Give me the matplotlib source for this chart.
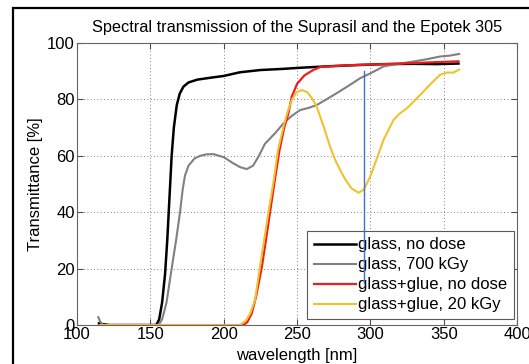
import matplotlib
matplotlib.use("Agg")
import matplotlib.pyplot as plt
from matplotlib.patches import Rectangle

plt.rcParams['font.family'] = ['Liberation Sans', 'DejaVu Sans']

# glass, no dose
wl_glass = [115, 118, 122, 130, 140, 150, 154, 156, 158, 160, 161.5, 163, 164.5, 166, 168, 170,
            172.5, 176, 182, 190, 200, 211, 225, 240, 252, 270, 293, 310, 330, 345, 360]
t_glass = [0.6, 0.3, 0, 0, 0, 0, 0, 2, 8, 18, 30, 45, 60, 70, 78, 82,
           84.5, 86, 87, 87.6, 88.3, 89.6, 90.4, 90.8, 91.2, 91.7, 92.2, 92.5, 92.6, 92.5, 92.7]

# glass, 700 kGy
wl_glass_700 = [114.5, 116, 118, 125, 140, 150, 155.5, 158, 161, 164.5, 167.5, 170.2, 172, 173.6,
                176, 180, 184, 188, 193, 200, 206, 211, 215.7, 220, 224, 228, 235, 240.7, 246,
                252, 258, 263.4, 270, 277, 285, 293, 301, 309, 318, 329, 338, 347.5, 354, 360.5]
t_glass_700 = [2.8, 1, 0, 0, 0, 0, 0, 2, 8, 20, 30, 40, 48, 53,
               56.5, 59, 60, 60.5, 60.6, 59.5, 57.5, 56, 55.3, 56.5, 60, 64.2, 68, 71.5, 74,
               76.2, 77, 78, 80, 82.2, 84.8, 87.5, 89.5, 91.7, 92.5, 93.4, 94.2, 95.2, 95.5, 96.1]

# glass+glue, no dose
wl_glue = [116, 130, 150, 170, 190, 205, 213.4, 216, 219, 222, 226, 229, 231.6, 235, 238, 241,
           244, 246.4, 250, 255, 261, 266, 275, 290, 310, 330, 345, 360]
t_glue = [0, 0, 0, 0, 0, 0, 0, 1, 4, 10, 20.7, 31, 40.2, 52, 62, 69.5,
          75, 81, 85.5, 88.5, 90.4, 91.5, 91.8, 92.2, 92.5, 92.9, 93.2, 93.5]

# glass+glue, 20 kGy
wl_glue_20 = [116, 130, 150, 170, 190, 205, 211, 215, 218, 221.4, 224.5, 227.5, 230.5, 234, 237,
              240.7, 243.5, 246.4, 249.5, 253.2, 257, 260, 263.4, 268, 272.5, 276, 279.3, 283,
              287, 291.8, 295.5, 299.8, 304, 308.9, 315.7, 320, 324.8, 330, 336, 342, 347.5,
              352, 356.6, 360.5]
t_glue_20 = [0, 0, 0, 0, 0, 0, 0, 1.5, 4, 9, 20, 30, 40, 51, 62,
             70.3, 75.5, 79.8, 82.5, 83.3, 82.5, 80.5, 77.4, 70.5, 63.2, 58.5, 55, 51.5,
             48.5, 46.9, 48, 52.6, 58.5, 65.6, 72.7, 75, 76.8, 79.5, 82.7, 86, 88.7,
             89.5, 89.5, 90.6]

# marker line
marker_wl = 295.5
marker_t = [15, 90]

labels = ['glass, no dose', 'glass, 700 kGy', 'glass+glue, no dose', 'glass+glue, 20 kGy']
colors = ['#000000', '#808080', '#ee1c1c', '#f2c12e']

fig = plt.figure(figsize=(5.29, 3.64), dpi=100)
ax = fig.add_axes([0.1456, 0.107, 0.832, 0.775])

series = [(wl_glass, t_glass), (wl_glass_700, t_glass_700), (wl_glue, t_glue), (wl_glue_20, t_glue_20)]
widths = [1.8, 1.5, 1.6, 1.5]
for (x, y), lab, c, w in zip(series, labels, colors, widths):
    ax.plot(x, y, color=c, lw=w, label=lab)

ax.set_xlim(100, 400)
ax.set_ylim(0, 100)
ax.set_xticks(range(100, 401, 50))
ax.set_yticks(range(0, 101, 20))
ax.grid(True, color='0.35', linestyle=(0, (1, 3)), lw=0.6)
ax.tick_params(direction='in', length=4, labelsize=12, top=True, right=True,
               color='0.3', pad=1.5)
for s in ax.spines.values():
    s.set_color('0.4')
    s.set_linewidth(0.8)

ax.set_title('Spectral transmission of the Suprasil and the Epotek 305', fontsize=11.7, pad=8)
ax.set_xlabel('wavelength [nm]', fontsize=12, labelpad=4)
ax.set_ylabel('Transmittance [%]', fontsize=12, labelpad=3)

leg = ax.legend(loc='lower right', bbox_to_anchor=(0.993, 0.021), borderaxespad=0,
                fontsize=12, fancybox=False, framealpha=1, edgecolor='0.35',
                handlelength=2.5, handletextpad=0.15, labelspacing=0.3, borderpad=0.4)
leg.get_frame().set_linewidth(0.8)

ax.plot([marker_wl, marker_wl], marker_t, color='#3f6fd0', lw=1, zorder=10)

fig.patches.append(Rectangle((13 / 529, -0.05), 2, 1.05 - 8 / 364, transform=fig.transFigure,
                             fill=False, edgecolor='black', lw=1.6, clip_on=False))

fig.savefig('out.png', dpi=100)
